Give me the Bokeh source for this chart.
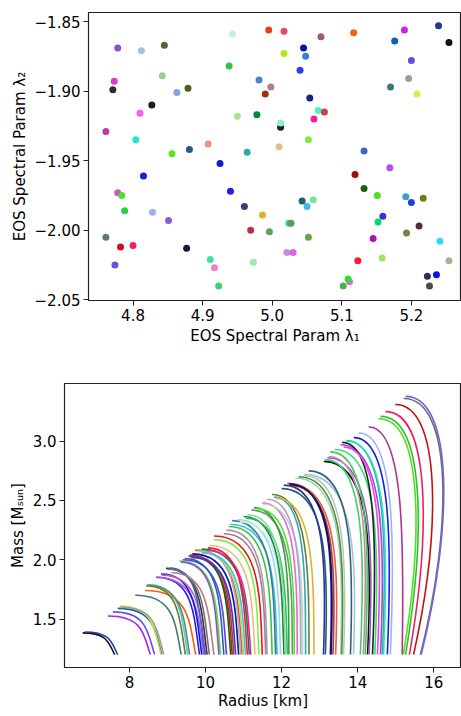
from bokeh.plotting import figure
from bokeh.models import FixedTicker, ColumnDataSource, Range1d, CustomJSTickFormatter
from bokeh.embed import file_html
from bokeh.resources import INLINE

# ---------------- top panel: EOS spectral parameters ----------------
lam1 = [4.778, 4.812, 4.845, 4.773, 4.771, 4.842, 4.863, 4.879, 4.827, 4.810,
        4.761, 4.804, 4.856, 4.881, 4.815, 4.778, 4.784, 4.788, 4.828, 4.851,
        4.761, 4.782, 4.800, 4.774, 4.877, 4.911, 4.917, 4.923, 4.938, 4.943,
        4.908, 4.925, 4.950, 4.964, 4.940, 4.960, 4.969, 4.973, 4.995, 5.017,
        5.017, 4.981, 4.998, 4.990, 4.978, 5.012, 5.012, 5.010, 4.986, 4.996,
        5.024, 5.027, 5.021, 5.030, 5.045, 5.048, 5.040, 5.070, 5.054, 5.066,
        5.075, 5.060, 5.052, 5.043, 5.059, 5.050, 5.052, 5.117, 5.119, 5.132,
        5.132, 5.151, 5.152, 5.159, 5.145, 5.123, 5.158, 5.102, 5.111, 5.109,
        5.169, 5.176, 5.190, 5.200, 5.170, 5.196, 5.208, 5.239, 5.254, 5.192,
        5.200, 5.217, 5.193, 5.211, 5.241, 5.254, 5.223, 5.236, 5.226]
lam2 = [-1.869, -1.871, -1.867, -1.893, -1.899, -1.889, -1.901, -1.898, -1.910, -1.916,
        -1.929, -1.935, -1.945, -1.942, -1.961, -1.973, -1.975, -1.986, -1.987, -1.993,
        -2.005, -2.012, -2.011, -2.025, -2.013, -2.021, -2.027, -2.040, -1.882, -1.859,
        -1.938, -1.952, -1.918, -1.944, -1.972, -1.983, -2.000, -2.023, -1.856, -1.857,
        -1.873, -1.892, -1.897, -1.902, -1.917, -1.926, -1.923, -1.940, -1.989, -2.001,
        -1.995, -1.995, -2.016, -2.016, -1.869, -1.875, -1.885, -1.861, -1.905, -1.914,
        -1.915, -1.920, -1.935, -1.979, -1.978, -1.983, -2.005, -1.858, -1.960, -1.970,
        -1.943, -1.975, -1.994, -1.990, -2.006, -2.022, -2.020, -2.040, -2.037, -2.035,
        -1.955, -1.864, -1.856, -1.878, -1.897, -1.891, -1.902, -1.853, -1.865, -1.976,
        -1.980, -1.977, -2.002, -1.997, -2.008, -2.022, -2.033, -2.032, -2.040]
point_colors = ["#8a4fd6", "#a9c1d9", "#4a6a30", "#d63cc6", "#2f2a3a", "#a3c98f", "#80a8d8", "#4f5f20", "#152028", "#f75cf0",
                "#c03aa0", "#20e8c8", "#60e020", "#2a5a7a", "#1020e8", "#c060b0", "#50e030", "#30d040", "#a0b0f8", "#8a60c8",
                "#607a70", "#d01020", "#f02060", "#7050d8", "#101838", "#40e0a0", "#f080c0", "#40d070", "#30c050", "#c0f0e8",
                "#f09080", "#0820c8", "#b0e090", "#30a8b0", "#2020e0", "#304080", "#c03040", "#a0e8b0", "#e04020", "#e84860",
                "#b0e820", "#5080d0", "#b08080", "#a03010", "#008840", "#202020", "#90f0c0", "#e0c080", "#e0b030", "#60a060",
                "#30e070", "#5a9a68", "#c090d8", "#e060e8", "#0a10b0", "#3a80d0", "#3838f0", "#a06060", "#18208a", "#50f0c0",
                "#c04848", "#f020a0", "#80e840", "#1a6070", "#80e0a0", "#40b8e8", "#60a840", "#f86010", "#a01008", "#206010",
                "#4068c0", "#50e020", "#00d870", "#3838d0", "#b010b0", "#f81838", "#a0e860", "#50b050", "#f060e0", "#30e030",
                "#b050f0", "#1060b0", "#d020f0", "#6050e0", "#407878", "#a0a090", "#d0f050", "#203890", "#101010", "#40a0c8",
                "#2040e0", "#707a20", "#7a8050", "#602830", "#30d8f8", "#b0b098", "#303050", "#1010f0", "#405048"]
lam1_ticks = [4.8, 4.9, 5.0, 5.1, 5.2]
lam2_ticks = [-2.05, -2.00, -1.95, -1.90, -1.85]

# ---------------- bottom panel: mass-radius curves ----------------
M_CUT = 1.2  # lowest mass drawn for every curve
r_top = [6.77, 6.82, 7.43, 7.56, 7.69, 7.74, 7.76, 8.15, 8.41, 8.44,
         8.47, 8.46, 8.70, 8.72, 8.83, 8.85, 8.96, 9.00, 9.05, 9.10,
         9.31, 9.35, 9.40, 9.45, 9.55, 9.58, 9.60, 9.62, 9.65, 9.72,
         9.75, 9.80, 9.90, 9.90, 10.00, 10.06, 10.10, 10.22, 10.22, 10.48,
         10.55, 10.61, 10.65, 10.70, 10.83, 10.90, 11.00, 11.05, 11.10, 11.20,
         11.27, 11.35, 11.49, 11.50, 11.62, 11.75, 11.80, 11.85, 12.00, 12.06,
         12.15, 12.19, 12.20, 12.22, 12.36, 12.45, 12.58, 12.60, 12.71, 13.11,
         13.14, 13.20, 13.24, 13.28, 13.40, 13.55, 13.59, 13.63, 13.70, 13.72,
         13.90, 14.03, 14.29, 14.55, 14.60, 14.73, 14.99, 15.21, 15.26]
m_top = [1.383, 1.390, 1.525, 1.560, 1.590, 1.610, 1.600, 1.700, 1.740, 1.780,
         1.790, 1.785, 1.853, 1.850, 1.880, 1.870, 1.927, 1.920, 1.930, 1.890,
         1.990, 1.980, 2.000, 2.010, 2.030, 2.040, 2.035, 2.020, 2.050, 2.080,
         2.086, 2.070, 2.060, 2.090, 2.080, 2.100, 2.120, 2.170, 2.200, 2.220,
         2.250, 2.280, 2.300, 2.330, 2.340, 2.320, 2.365, 2.350, 2.380, 2.420,
         2.440, 2.430, 2.480, 2.470, 2.510, 2.550, 2.530, 2.520, 2.600, 2.630,
         2.645, 2.640, 2.630, 2.635, 2.690, 2.700, 2.710, 2.720, 2.750, 2.830,
         2.845, 2.860, 2.870, 2.910, 2.930, 2.970, 2.990, 2.950, 3.005, 3.000,
         3.030, 3.070, 3.120, 3.190, 3.210, 3.250, 3.310, 3.360, 3.378]
r_bot = [7.61, 7.69, 8.55, 8.66, 8.85, 8.83, 8.90, 9.36, 9.74, 9.47,
         9.53, 9.58, 9.84, 9.95, 9.90, 10.00, 10.04, 10.10, 9.98, 10.22,
         10.39, 10.35, 10.55, 10.48, 10.70, 10.66, 10.74, 10.79, 10.87, 10.96,
         10.92, 11.00, 11.05, 11.15, 11.19, 11.10, 11.30, 11.40, 11.49, 11.58,
         11.62, 11.75, 11.88, 11.84, 11.97, 12.06, 12.06, 12.15, 12.10, 12.28,
         12.19, 12.33, 12.41, 12.55, 12.50, 12.72, 12.63, 12.85, 13.15, 13.10,
         13.42, 13.28, 13.35, 13.30, 13.55, 13.58, 13.63, 13.89, 13.81, 14.26,
         14.07, 14.30, 14.15, 14.20, 14.45, 14.60, 14.39, 14.52, 14.65, 14.68,
         14.78, 14.86, 15.17, 15.20, 15.26, 15.36, 15.47, 15.65, 15.67]
r_ctrl = [7.45, 7.53, 8.37, 8.48, 8.67, 8.65, 8.72, 9.20, 9.58, 9.32,
          9.38, 9.43, 9.69, 9.80, 9.75, 9.85, 9.89, 9.95, 9.83, 10.07,
          10.29, 10.25, 10.45, 10.38, 10.60, 10.56, 10.64, 10.69, 10.77, 10.86,
          10.82, 10.90, 10.95, 11.05, 11.09, 11.00, 11.22, 11.35, 11.44, 11.53,
          11.57, 11.70, 11.83, 11.79, 11.92, 12.01, 12.01, 12.10, 12.05, 12.28,
          12.19, 12.33, 12.41, 12.55, 12.50, 12.72, 12.63, 12.85, 13.23, 13.18,
          13.50, 13.36, 13.43, 13.38, 13.63, 13.66, 13.71, 13.97, 13.89, 14.38,
          14.19, 14.42, 14.27, 14.32, 14.57, 14.72, 14.51, 14.64, 14.77, 14.80,
          14.90, 14.98, 15.22, 15.72, 15.78, 15.92, 16.20, 16.50, 16.52]
curve_colors = ["#101010", "#2040a0", "#b020f0", "#6050e0", "#2060a0", "#c8e040", "#a0a090", "#407878", "#f86010", "#707a20",
                "#30d8f8", "#7a8050", "#2020e0", "#b050f0", "#1010f0", "#c060b0", "#303050", "#807060", "#4068c0", "#b08080",
                "#60e020", "#8a4fd6", "#6040e0", "#2060c0", "#a03010", "#206010", "#c03040", "#3838d0", "#0a10b0", "#e84860",
                "#b0b098", "#a0e860", "#40c0e0", "#008840", "#f020a0", "#f81838", "#e0c080", "#80f040", "#f01020", "#b07880",
                "#a0a0b0", "#40c040", "#40b8e8", "#308090", "#a0d8e0", "#c0f0e8", "#208040", "#30c050", "#80e0a0", "#60a060",
                "#30a040", "#50e030", "#f060e0", "#a0e8b0", "#c090d8", "#608040", "#30a8b0", "#e0b030", "#2a5a7a", "#203890",
                "#e06040", "#1010f0", "#c03040", "#101838", "#90e0a0", "#608050", "#b0d0b0", "#a9c1d9", "#306080", "#101010",
                "#40d070", "#8a60c8", "#d080c0", "#40d040", "#30e070", "#9050e0", "#202020", "#f040f0", "#40a090", "#20e8c8",
                "#1020e8", "#a0b0f8", "#b03090", "#50e020", "#30c030", "#f02060", "#c01010", "#607080", "#8060d0"]
radius_ticks = [8, 10, 12, 14, 16]
mass_ticks = [1.5, 2.0, 2.5, 3.0]

FONT = "DejaVu Sans"


def style(p):
    p.grid.visible = False
    p.outline_line_color = "#222222"
    p.outline_line_width = 1.2
    p.background_fill_color = "white"
    p.border_fill_color = "white"
    for ax in p.axis:
        ax.axis_line_color = None
        ax.major_tick_in = 0
        ax.major_tick_out = 5
        ax.major_tick_line_color = "#222222"
        ax.minor_tick_line_color = None
        ax.major_label_text_font = FONT
        ax.major_label_text_font_size = "15px"
        ax.major_label_text_color = "black"
        ax.major_label_standoff = 3
        ax.axis_label_text_font = FONT
        ax.axis_label_text_font_size = "15px"
        ax.axis_label_text_font_style = "normal"
        ax.axis_label_text_color = "black"
        ax.axis_label_standoff = 3


# top figure
p1 = figure(frame_width=373, frame_height=288,
            x_range=Range1d(4.736, 5.272), y_range=Range1d(-2.0505, -1.8435),
            output_backend="svg", toolbar_location=None,
            min_border_left=88, min_border_top=12, min_border_right=0, min_border_bottom=68)
p1.scatter(x=lam1, y=lam2, size=7, fill_color=point_colors, line_color=None)
style(p1)
p1.xaxis.ticker = FixedTicker(ticks=lam1_ticks)
p1.yaxis.ticker = FixedTicker(ticks=lam2_ticks)
p1.xaxis.formatter = CustomJSTickFormatter(code="return tick.toFixed(1).replace('-', '\u2212');")
p1.yaxis.formatter = CustomJSTickFormatter(code="return tick.toFixed(2).replace('-', '\u2212');")
p1.xaxis.axis_label = "EOS Spectral Param λ₁"
p1.yaxis.axis_label = "EOS Spectral Param λ₂"

# bottom figure
p2 = figure(frame_width=397, frame_height=284,
            x_range=Range1d(6.29, 16.73), y_range=Range1d(1.091, 3.487),
            output_backend="svg", toolbar_location=None,
            min_border_left=64, min_border_top=15, min_border_right=0, min_border_bottom=0)
src = ColumnDataSource(dict(
    x0=r_bot, y0=[M_CUT] * len(r_bot),
    cx0=r_ctrl, cy0=[M_CUT + 0.5 * (m - M_CUT) for m in m_top],
    cx1=r_ctrl, cy1=m_top,
    x1=r_top, y1=m_top,
    color=curve_colors,
))
p2.bezier(x0="x0", y0="y0", x1="x1", y1="y1", cx0="cx0", cy0="cy0", cx1="cx1", cy1="cy1",
          line_color="color", line_width=1.6, source=src)
style(p2)
p2.xaxis.ticker = FixedTicker(ticks=radius_ticks)
p2.yaxis.ticker = FixedTicker(ticks=mass_ticks)
p2.xaxis.formatter = CustomJSTickFormatter(code="return tick.toFixed(0);")
p2.yaxis.formatter = CustomJSTickFormatter(code="return tick.toFixed(1);")
p2.xaxis.axis_label_standoff = 1
p2.xaxis.axis_label = "Radius [km]"
p2.yaxis.axis_label = "Mass [Mₛᵤₙ]"

open("out.html", "w").write(file_html([p1, p2], INLINE))
